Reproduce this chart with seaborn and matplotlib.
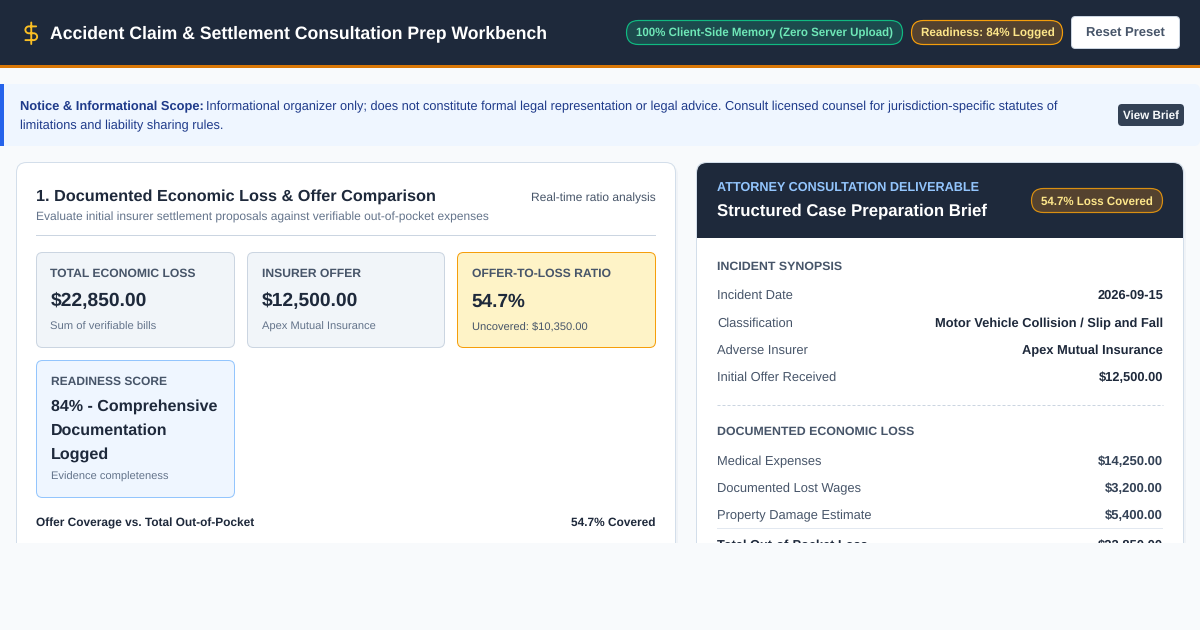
import seaborn as sns
import matplotlib.pyplot as plt
from matplotlib.patches import FancyBboxPatch, Rectangle, PathPatch
from matplotlib.path import Path

# page text and values
app_title = "Accident Claim & Settlement Consultation Prep Workbench"
pill_labels = ["100% Client-Side Memory (Zero Server Upload)", "Readiness: 84% Logged"]
notice_bold = "Notice & Informational Scope:"
notice_line1 = "Informational organizer only; does not constitute formal legal representation or legal advice. Consult licensed counsel for jurisdiction-specific statutes of"
notice_line2 = "limitations and liability sharing rules."

kpi_labels = ["TOTAL ECONOMIC LOSS", "INSURER OFFER", "OFFER-TO-LOSS RATIO"]
kpi_values = ["$22,850.00", "$12,500.00", "54.7%"]
kpi_notes = ["Sum of verifiable bills", "Apex Mutual Insurance", "Uncovered: $10,350.00"]
readiness_lines = ["84% - Comprehensive", "Documentation", "Logged"]

synopsis_labels = ["Incident Date", "Classification", "Adverse Insurer", "Initial Offer Received"]
synopsis_values = ["2026-09-15", "Motor Vehicle Collision / Slip and Fall", "Apex Mutual Insurance", "$12,500.00"]
loss_labels = ["Medical Expenses", "Documented Lost Wages", "Property Damage Estimate"]
loss_values = ["$14,250.00", "$3,200.00", "$5,400.00"]

NAVY = "#1e293b"
SLATE = "#475569"
MUTED = "#64748b"
LINE = "#cbd5e1"
PAGE = "#f8fafc"

sns.set_theme(style="white", rc={"figure.facecolor": PAGE, "axes.facecolor": PAGE})
plt.rcParams["font.family"] = ["Liberation Sans", "DejaVu Sans"]
plt.rcParams["text.hinting"] = "none"

fig = plt.figure(figsize=(12, 6.3), dpi=100)
ax = fig.add_axes([0, 0, 1, 1])
ax.set_xlim(0, 1200)
ax.set_ylim(630, 0)
ax.set_axis_off()


def box(x0, y0, x1, y1, fill, edge="none", r=0, lw=1, z=1):
    if r:
        p = FancyBboxPatch((x0, y0), x1 - x0, y1 - y0, boxstyle=f"round,pad=0,rounding_size={r}",
                           fc=fill, ec=edge, lw=lw * 0.72, zorder=z)
    else:
        p = Rectangle((x0, y0), x1 - x0, y1 - y0, fc=fill, ec=edge, lw=lw * 0.72, zorder=z)
    ax.add_patch(p)


def label(x, y, s, px=13, color=NAVY, bold=False, ha="left", width=None):
    # px = css font size, width = wanted width on the page (browser letter spacing)
    t = ax.text(x, y, s, fontsize=px * 0.72, color=color, ha=ha, va="baseline",
                fontweight="bold" if bold else "normal", zorder=5)
    if width:
        for _ in range(4):
            w = t.get_window_extent(fig.canvas.get_renderer()).width
            t.set_fontsize(t.get_fontsize() * width / w)
    return t


# header
box(0, 0, 1200, 65, NAVY)
box(0, 65, 1200, 68, "#d97706")
k = 0.5523 * 3.5
cx, cy, sc = 19.5, 21.5, 0.98
verts = [(17, 5), (9.5, 5),
         (9.5 - k, 5), (6, 8.5 - k), (6, 8.5),
         (6, 8.5 + k), (9.5 - k, 12), (9.5, 12),
         (14.5, 12),
         (14.5 + k, 12), (18, 15.5 - k), (18, 15.5),
         (18, 15.5 + k), (14.5 + k, 19), (14.5, 19),
         (6, 19), (12, 1), (12, 23)]
codes = [Path.MOVETO, Path.LINETO] + [Path.CURVE4] * 6 + [Path.LINETO] + [Path.CURVE4] * 6 + [Path.LINETO, Path.MOVETO, Path.LINETO]
ax.add_patch(PathPatch(Path([(cx + a * sc, cy + b * sc) for a, b in verts], codes), fc="none",
                       ec="#fbbf24", lw=1.35, capstyle="round", zorder=5))
label(50, 38.5, app_title, 20, "#ffffff", True, width=498)

box(626.5, 20.5, 902.5, 44.5, "#1c4a4d", "#10b981", r=12, lw=1.2, z=2)
label(636, 36.5, pill_labels[0], 11.5, "#6ee7b7", True, width=258)
box(911.5, 20.5, 1062.5, 44.5, "#54422f", "#f59e0b", r=12, lw=1.2, z=2)
label(921, 36.5, pill_labels[1], 11.5, "#fde68a", True, width=133)
box(1071.5, 16.5, 1179.5, 48.5, "#ffffff", LINE, r=4, z=2)
label(1125.5, 37, "Reset Preset", 13, SLATE, True, ha="center", width=79)

# notice strip
box(0, 84, 1200, 146, "#eff6ff", r=6)
box(0, 84, 20, 146, "#eff6ff")
box(0, 84, 4, 146, "#2563eb", z=2)
label(20, 110, notice_bold, 13, "#1e3a8a", True, width=183)
label(206, 110, notice_line1, 13, "#1e3a8a", width=851)
label(20, 129, notice_line2, 13, "#1e3a8a", width=204)
box(1118, 104, 1184, 126, "#334155", r=4, z=2)
label(1151, 119, "View Brief", 11.5, "#f8fafc", True, ha="center", width=56)

# left card
box(18, 165, 678, 600, "#f0f3f7", r=10, z=0.5)
box(16.5, 162.5, 675.5, 600, "#ffffff", "#d3deea", r=10, z=1)
label(36, 201, "1. Documented Economic Loss & Offer Comparison", 18, NAVY, True, width=401)
label(36.5, 220.5, "Evaluate initial insurer settlement proposals against verifiable out-of-pocket expenses", 12, MUTED, width=453)
label(656, 201.5, "Real-time ratio analysis", 12, SLATE, ha="right", width=125)
box(36, 235, 656, 236, LINE, z=2)

kpi_x = [(36.5, 234.5), (247.5, 444.5), (457.5, 655.5)]
kpi_fill = ["#f1f5f9", "#f1f5f9", "#fef3c7"]
kpi_edge = [LINE, LINE, "#f59e0b"]
kpi_width = [145, 99, 139]
value_width = [96, 96, 54]
note_width = [106, 114, 116]
kpi_note_color = [MUTED, MUTED, SLATE]
for i in range(3):
    x0, x1 = kpi_x[i]
    box(x0, 252.5, x1, 347.5, kpi_fill[i], kpi_edge[i], r=6, z=2)
    label(x0 + 14, 277, kpi_labels[i], 11.5, SLATE, True, width=kpi_width[i])
    label(x0 + 14, 306.5, kpi_values[i], 21, NAVY, True, width=value_width[i])
    label(x0 + 14, 330, kpi_notes[i], 11, kpi_note_color[i], width=note_width[i])

box(36.5, 360.5, 234.5, 497.5, "#eff6ff", "#93c5fd", r=6, z=2)
label(51, 385, "READINESS SCORE", 11.5, SLATE, True, width=116)
for y, line, w in zip([410.5, 434.5, 458.5], readiness_lines, [166, 116, 58]):
    label(51, y, line, 16, NAVY, True, width=w)
label(51, 480, "Evidence completeness", 11, MUTED, width=118)
label(36.5, 526, "Offer Coverage vs. Total Out-of-Pocket", 11.5, NAVY, True, width=217)
label(656, 526, "54.7% Covered", 11.5, NAVY, True, ha="right", width=84)

# right card
box(698, 165, 1186, 600, "#f0f3f7", r=10, z=0.5)
box(696.5, 162.5, 1183.5, 600, "#ffffff", "#d3deea", r=10, z=1)
box(697, 163, 1183, 260, NAVY, r=10, z=2)
box(697, 238, 1183, 600, "#ffffff", z=2)
label(717, 191, "ATTORNEY CONSULTATION DELIVERABLE", 11.5, "#93c5fd", True, width=262)
label(717, 215.5, "Structured Case Preparation Brief", 17.5, "#ffffff", True, width=270)
box(1031.5, 188.5, 1162.5, 212.5, "#54422f", "#d98f12", r=12, lw=1.2, z=3)
label(1041, 204.5, "54.7% Loss Covered", 11.5, "#fde68a", True, width=112)

label(717, 270, "INCIDENT SYNOPSIS", 11, SLATE, True, width=126)
for y, a, b in zip([299, 327, 354, 381], synopsis_labels, synopsis_values):
    label(717, y, a, 12.85, SLATE)
    label(1163, y, b, 12.85, NAVY, True, ha="right")
ax.plot([717, 1163], [404.5, 404.5], color=LINE, lw=0.72, ls=(0, (3, 2)), zorder=3)

label(717, 435, "DOCUMENTED ECONOMIC LOSS", 11, SLATE, True, width=197)
for y, a, b in zip([465, 492, 519], loss_labels, loss_values):
    label(717, y, a, 12.85, SLATE)
    label(1163, y, b, 13, "#334155", True, ha="right")
box(717, 528, 1163, 529, "#e2e8f0", z=3)
label(717, 548.5, "Total Out-of-Pocket Loss", 13, NAVY, True, width=151)
label(1163, 548.5, "$22,850.00", 13, NAVY, True, ha="right")

# page is cut off here
box(0, 543, 1200, 630, PAGE, z=10)

fig.savefig("out.png", dpi=100, facecolor=PAGE)
